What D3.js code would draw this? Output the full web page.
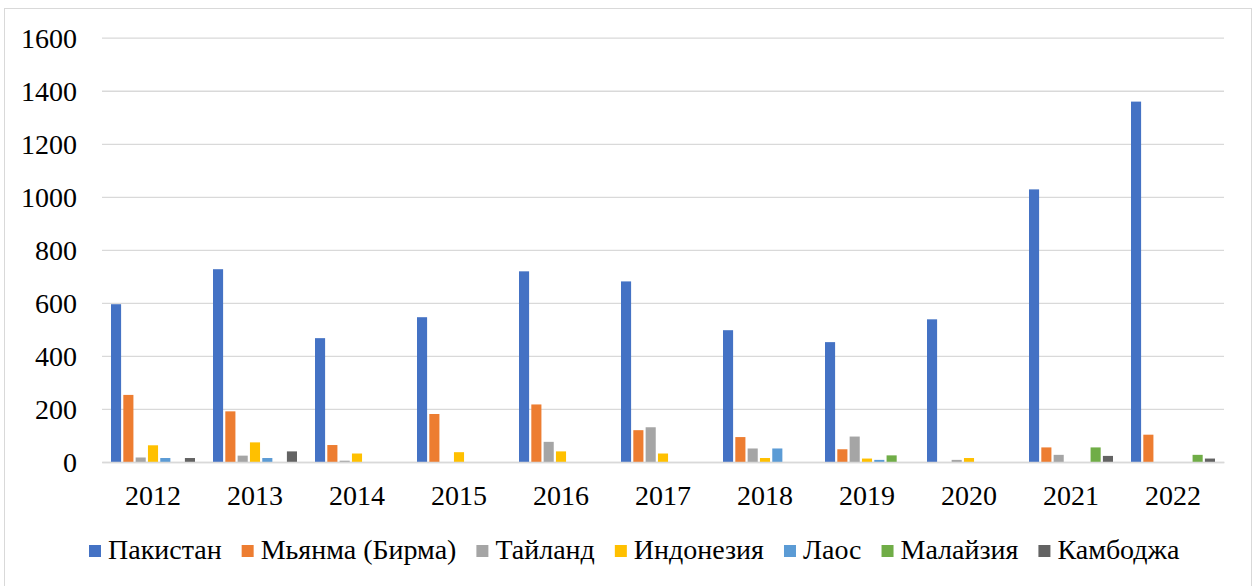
<!DOCTYPE html>
<html>
<head>
<meta charset="utf-8">
<script src="https://cdn.jsdelivr.net/npm/d3@7"></script>
<style>
  body { margin: 0; background: #fff; }
</style>
</head>
<body>
<svg width="1253" height="586"></svg>
<script>
const years = ["2012","2013","2014","2015","2016","2017","2018","2019","2020","2021","2022"];
const seriesNames = ["Пакистан","Мьянма (Бирма)","Тайланд","Индонезия","Лаос","Малайзия","Камбоджа"];
const seriesColors = ["#4472C4","#ED7D31","#A5A5A5","#FFC000","#5B9BD5","#70AD47","#636363"];
const yTicks = [0,200,400,600,800,1000,1200,1400,1600];

const pakistan = [595, 727, 467, 546, 719, 681, 497, 452, 538, 1028, 1359];
const myanmar  = [253, 191, 64, 181, 217, 120, 94, 48, 0, 55, 103];
const thailand = [17, 24, 5, 0, 76, 131, 51, 96, 8, 27, 0];
const indonesia = [63, 74, 32, 37, 40, 32, 15, 13, 15, 0, 0];
const laos     = [15, 15, 0, 0, 0, 0, 51, 8, 0, 0, 0];
const malaysia = [0, 0, 0, 0, 0, 0, 0, 25, 0, 55, 27];
const cambodia = [15, 40, 0, 0, 0, 0, 0, 0, 0, 23, 13];

const seriesValues = [pakistan, myanmar, thailand, indonesia, laos, malaysia, cambodia];

const FONT = '"Liberation Serif", "Times New Roman", serif';

const svg = d3.select('svg');
const plot = {l: 102, r: 1224, t: 37.7, b: 462};

// outer chart border
svg.append('rect')
    .attr('x', 4.5).attr('y', 8.5)
    .attr('width', 1247).attr('height', 600)
    .attr('fill', 'none')
    .attr('stroke', '#D9D9D9')
    .attr('stroke-width', 1);

const x0 = d3.scaleBand()
    .domain(years)
    .range([plot.l, plot.r]);

const x1 = d3.scaleBand()
    .domain(seriesNames)
    .range([9, x0.bandwidth() - 9])
    .paddingInner(0.18);

const y = d3.scaleLinear()
    .domain([0, 1600])
    .range([plot.b, plot.t]);

// gridlines + y labels
const axisY = d3.axisLeft(y)
    .tickValues(yTicks)
    .tickSize(-(plot.r - plot.l))
    .tickFormat(d3.format('d'));

const axisYG = svg.append('g')
    .attr('transform', `translate(${plot.l}, 0)`)
    .call(axisY)
    .attr('font-family', FONT);
axisYG.select('.domain').remove();
axisYG.selectAll('line').attr('stroke', '#D9D9D9').attr('stroke-width', 1.3);
axisYG.selectAll('text')
    .attr('x', -25)
    .attr('dy', '0.34em')
    .style('font-size', '28px');

// bars
const groups = svg.append('g').selectAll('g')
    .data(years)
    .join('g')
    .attr('transform', d => `translate(${x0(d)}, 0)`);

groups.selectAll('rect')
    .data((yr, i) => seriesNames.map((s, k) => ({s, v: seriesValues[k][i], c: seriesColors[k]})))
    .join('rect')
    .attr('x', d => x1(d.s))
    .attr('width', x1.bandwidth())
    .attr('y', d => y(d.v))
    .attr('height', d => y(0) - y(d.v))
    .attr('fill', d => d.c);

// x axis
const axisX = d3.axisBottom(x0).tickSize(0).tickPadding(0);
const axisXG = svg.append('g')
    .attr('transform', `translate(0, ${plot.b})`)
    .call(axisX)
    .attr('font-family', FONT);
axisXG.select('.domain')
    .attr('stroke', '#D9D9D9').attr('stroke-width', 1.5);
axisXG.selectAll('text')
    .attr('y', 43)
    .attr('dy', 0)
    .style('font-size', '28px');

// legend
const legend = svg.append('g').attr('font-family', FONT);
let lx = 89;
seriesNames.forEach((name, k) => {
    const item = legend.append('g');
    item.append('rect')
        .attr('x', lx).attr('y', 545)
        .attr('width', 12).attr('height', 12)
        .attr('fill', seriesColors[k]);
    const t = item.append('text')
        .attr('x', lx + 19).attr('y', 559)
        .style('font-size', '28px')
        .text(name);
    lx += 19 + t.node().getComputedTextLength() + 20;
});
</script>
</body>
</html>
